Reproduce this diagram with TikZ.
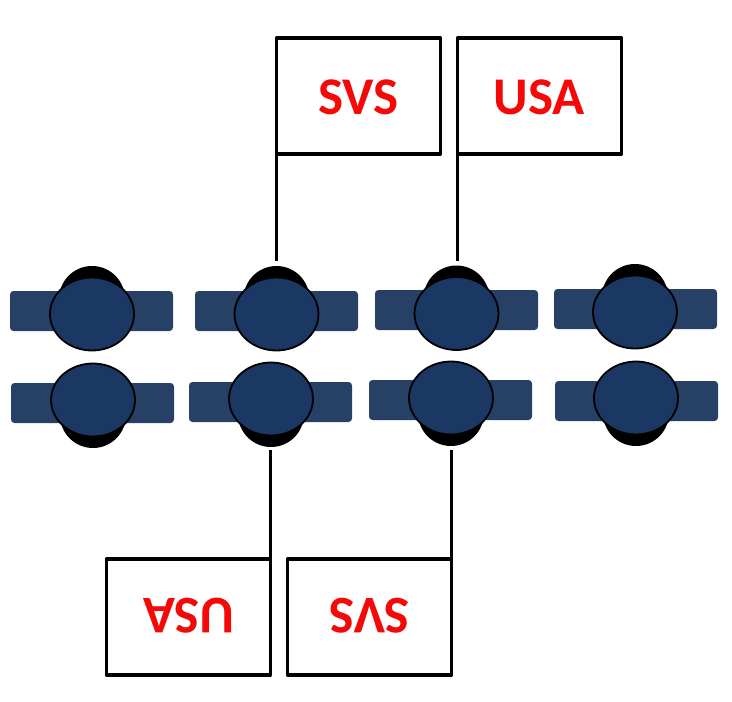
\documentclass[tikz,border=0pt]{standalone}
\usepackage{fontspec}
\usetikzlibrary{shapes.geometric}
\setmainfont{Carlito}
\definecolor{deskblue}{HTML}{264066}
\definecolor{headblue}{HTML}{1A3863}
\definecolor{flagred}{HTML}{F50808}
\tikzset{
  desk/.style={fill=deskblue,draw=none,rounded corners=3.5pt},
  backhead/.style={fill=black,draw=none,ellipse,minimum width=66pt,minimum height=66pt,inner sep=0pt},
  head/.style={fill=headblue,draw=black,line width=1.8pt,ellipse,outer sep=0pt,minimum width=84pt,minimum height=73pt,inner sep=0pt},
  flagbox/.style={draw=black,line width=3.2pt,fill=white,outer sep=0pt,minimum width=164pt,minimum height=116pt,inner sep=0pt,line join=round},
  flagtext/.style={text=flagred,font=\fontsize{53}{53}\selectfont\bfseries,inner sep=0pt},
  pole/.style={draw=black,line width=3.6pt,line cap=butt}
}
% #1 name, #2 cx, #3 cy, #4 desk-left, #5 desk-bottom, #6 back-head offset
\newcommand{\seat}[6]{%
  \node[backhead] (#1b) at (#2,{#3+#6}) {};
  \path[desk] (#4,#5) rectangle ++(163,-40);
  \node[head] (#1) at (#2,#3) {};
}
\begin{document}
\begin{tikzpicture}[x=1pt,y=-1pt]
\useasboundingbox (0,0) rectangle (732,702);
\seat{a1}{92}{314}{10}{331}{-15}
\seat{a2}{276.5}{314}{195}{331}{-15}
\seat{a3}{456.5}{313.5}{375}{330}{-15}
\seat{a4}{635}{312}{554}{329}{-15}
\seat{b1}{93}{400}{11}{423}{15}
\seat{b2}{271}{399}{189}{422}{15}
\seat{b3}{451}{398}{369}{420}{15}
\seat{b4}{636}{398}{555}{421}{15}
\coordinate (p1) at (276.5,261);
\coordinate (p2) at (457.5,261);
\coordinate (p3) at (270.5,450);
\coordinate (p4) at (451.5,450);
\node[flagbox] (f1) at (358.5,96) {};
\node[flagbox] (f2) at (539.5,96) {};
\node[flagbox] (f3) at (188.5,617) {};
\node[flagbox] (f4) at (369.5,617) {};
\node[flagtext] at ([yshift=-1pt]f1.center) {SVS};
\node[flagtext] at ([yshift=-1pt]f2.center) {USA};
\node[flagtext,rotate=180] at ([yshift=1pt]f3.center) {USA};
\node[flagtext,rotate=180] at ([yshift=1pt]f4.center) {SVS};
\draw[pole] (f1.north west) -- (p1);
\draw[pole] (f2.north west) -- (p2);
\draw[pole] (f3.south east) -- (p3);
\draw[pole] (f4.south east) -- (p4);
\end{tikzpicture}
\end{document}
